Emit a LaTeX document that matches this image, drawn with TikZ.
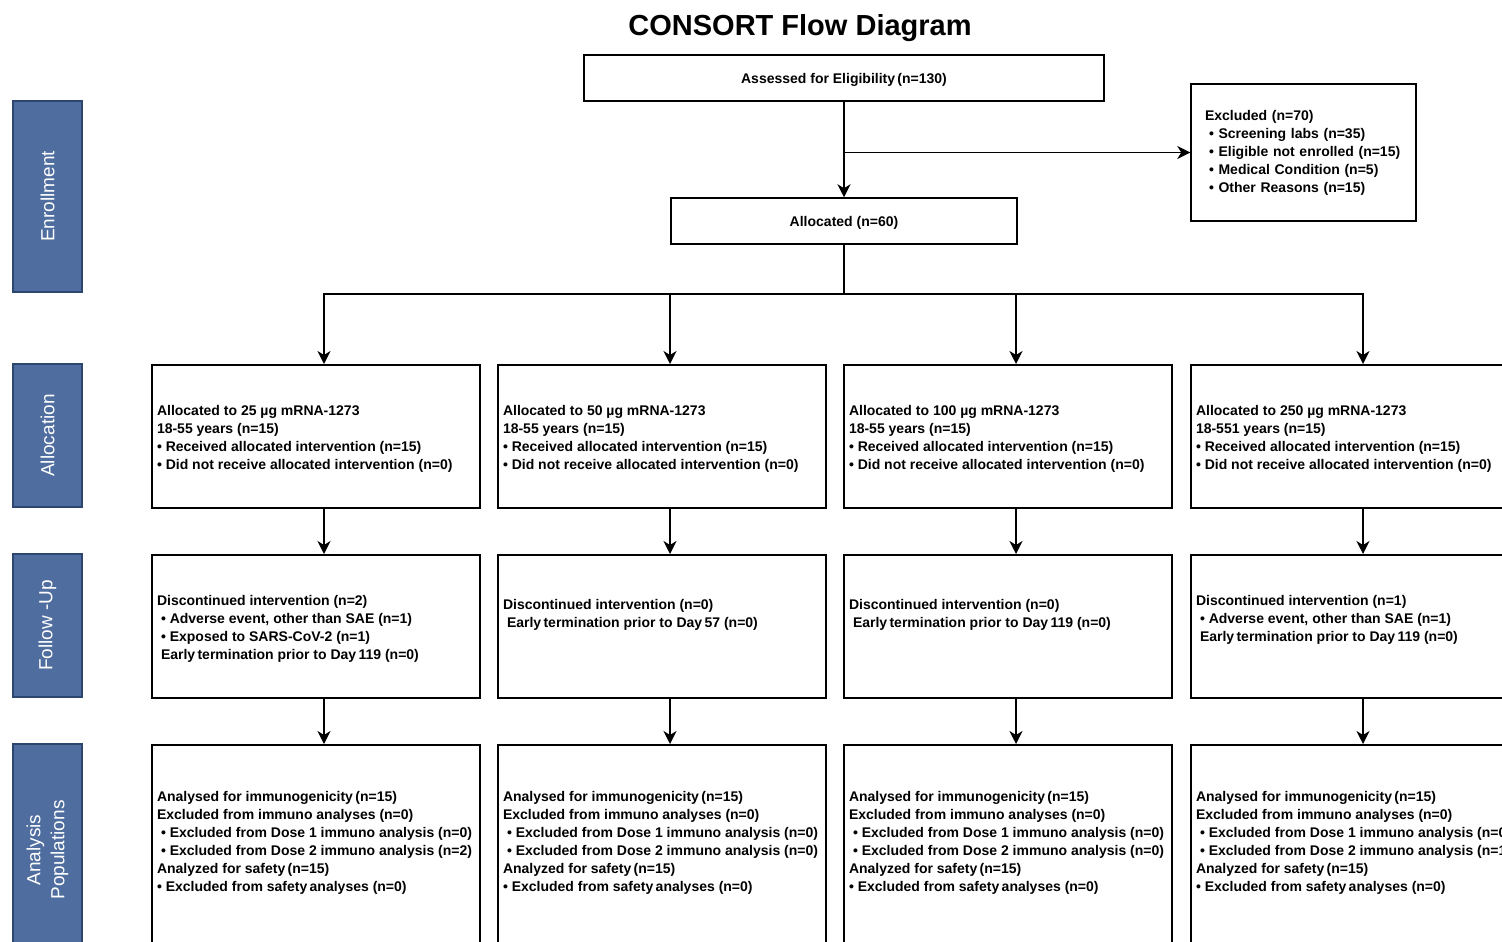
\documentclass[tikz,border=0pt]{standalone}
\usepackage{fontspec}
\setmainfont{Liberation Sans}
\usepackage{xcolor}
\usepackage{tikz}
\usetikzlibrary{positioning,arrows.meta}

\definecolor{phaseblue}{HTML}{4F6D9E}
\definecolor{phaseedge}{HTML}{2D4670}

% text of a cell, set from the top
\newcommand{\celltxt}[3]{\parbox[c][#1][t]{318pt}{\raggedright\vspace*{#2}#3}}
\newcommand{\ind}{\hspace*{4pt}}

\tikzset{
  flowbox/.style={draw, line width=1.5pt, font=\fontsize{14}{18}\selectfont\bfseries},
  cell/.style={flowbox, minimum width=328pt, inner sep=5pt, anchor=north},
  phase/.style={draw=phaseedge, fill=phaseblue, line width=1.5pt, text=white, rotate=90,
    minimum height=69pt, align=center, font=\fontsize{19}{24}\selectfont},
  link/.style={line width=1.5pt, ->},
}

\begin{document}
\begin{tikzpicture}[x=1pt, y=-1pt, >={Stealth[length=13pt,width=13pt,inset=4pt]}]
\useasboundingbox (0,0) rectangle (1502,942);
\clip (0,0) rectangle (1502,942);

\node [font=\fontsize{29}{34}\selectfont\bfseries] (title) at (800,28) {CONSORT Flow Diagram};

% phases
\node [phase, minimum width=191pt] (enrol) at (47.5,196.5) {Enrollment};
\node [phase, minimum width=143pt] (allocph) at (47.5,435.5) {Allocation};
\node [phase, minimum width=143pt] (follow) at (47.5,625.5) {Follow -Up};
\node [phase, minimum width=212pt] (analysis) at (47.5,850) {Analysis\\Populations};

% enrollment
\node [flowbox, minimum width=520pt, minimum height=46pt, text height=14pt] (assess) at (844,78) {Assessed for Eligibility\,(n=130)};
\node [flowbox, minimum width=225pt, minimum height=137pt, text width=197pt, inner xsep=14pt, align=left] (excl) at (1303.5,152.5)
  {Excluded (n=70)\\ \ind• Screening labs (n=35)\\ \ind• Eligible not enrolled (n=15)\\ \ind• Medical Condition (n=5)\\ \ind• Other Reasons (n=15)};
\node [flowbox, minimum width=346pt, minimum height=46pt, text height=14pt] (alloc) at (844,221) {Allocated (n=60)};

\draw [link] (assess) -- (alloc);
\draw [link] (assess.south |- excl.west) -- (excl.west);
\path (alloc.south) ++(0,49) coordinate (bus);

% allocation
\foreach \dose/\age/\cx [count=\i] in {25/18-55/316, 50/18-55/662, 100/18-55/1008, 250/18-551/1355}
  \node [cell] (arm\i) at (\cx,364) {\celltxt{133pt}{36pt}{Allocated to \dose\ µg mRNA-1273\\ \age\ years (n=15)\\ • Received allocated intervention (n=15)\\ • Did not receive allocated intervention (n=0)}};

% follow-up
\node [cell] (fu1) at (316,554) {\celltxt{133pt}{36pt}{Discontinued intervention (n=2)\\ \ind• Adverse event, other than SAE (n=1)\\ \ind• Exposed to SARS-CoV-2 (n=1)\\ \ind Early\,termination prior to Day\,119 (n=0)}};
\node [cell] (fu2) at (662,554) {\celltxt{133pt}{40pt}{Discontinued intervention (n=0)\\ \ind Early\,termination prior to Day\,57 (n=0)}};
\node [cell] (fu3) at (1008,554) {\celltxt{133pt}{40pt}{Discontinued intervention (n=0)\\ \ind Early\,termination prior to Day\,119 (n=0)}};
\node [cell] (fu4) at (1355,554) {\celltxt{133pt}{36pt}{Discontinued intervention (n=1)\\ \ind• Adverse event, other than SAE (n=1)\\ \ind Early\,termination prior to Day\,119 (n=0)}};

% analysis populations
\foreach \cx/\nd [count=\i] in {316/2, 662/0, 1008/0, 1355/1}
  \node [cell] (pop\i) at (\cx,744) {\celltxt{250pt}{42pt}{Analysed for immunogenicity\,(n=15)\\ Excluded from immuno analyses (n=0)\\ \ind• Excluded from Dose 1 immuno analysis (n=0)\\ \ind• Excluded from Dose 2 immuno analysis (n=\nd)\\ Analyzed for safety\,(n=15)\\ • Excluded from safety\,analyses (n=0)}};

\foreach \i in {1,...,4} {
  \coordinate (in\i) at ([xshift=8pt]arm\i.north);
  \draw [link] (alloc.south) |- (in\i |- bus) -- (in\i);
  \draw [link] ([xshift=8pt]arm\i.south) -- ([xshift=8pt]fu\i.north);
  \draw [link] ([xshift=8pt]fu\i.south) -- ([xshift=8pt]pop\i.north);
}

\end{tikzpicture}
\end{document}
